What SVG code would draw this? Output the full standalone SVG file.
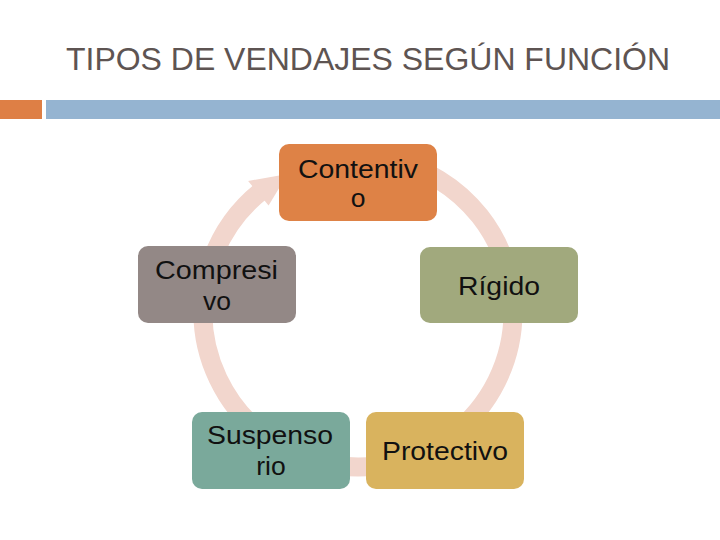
<svg xmlns="http://www.w3.org/2000/svg" width="720" height="540" viewBox="0 0 720 540">
<style>
.title{font-family:"Liberation Sans",Arial,sans-serif;font-size:32px;fill:#5e5452}
.lbl{font-family:"Liberation Sans",Arial,sans-serif;font-size:26.5px;fill:#111;text-anchor:middle}
.ring{fill:none;stroke:#f2d6cd;stroke-width:19}
.head{fill:#f2d6cd}
.box{stroke:none}
</style>
<rect width="720" height="540" fill="#ffffff"/>
<g id="title">
<text class="title" x="66" y="70" textLength="604" lengthAdjust="spacingAndGlyphs">TIPOS DE VENDAJES SEGÚN FUNCIÓN</text>
</g>
<g id="bars">
<rect x="0" y="100" width="42" height="19" fill="#de7f45"/>
<rect x="46" y="100" width="674" height="19" fill="#95b4d1"/>
</g>
<g id="connectors">
<path class="ring" d="M 336.4 158.5 A 155 155 0 0 1 504.6 261.5"/>
<polygon class="head" points="518.7,253.5 511.8,293.1 488.6,264.5"/>
<path class="ring" d="M 513 312 A 155 155 0 0 1 451.3 435.8"/>
<polygon class="head" points="463.3,446.7 423.5,452.5 443.6,421.5"/>
<path class="ring" d="M 398.1 461.7 A 155 155 0 0 1 336.4 465.5"/>
<polygon class="head" points="337.2,481.7 305,457.7 341.1,450"/>
<path class="ring" d="M 280.5 446.2 A 155 155 0 0 1 204.9 287.8"/>
<polygon class="head" points="188.7,288.2 213.3,256.4 220.4,292.7"/>
<path class="ring" d="M 212.3 259 A 155 155 0 0 1 260.5 191.6"/>
<polygon class="head" points="248.1,181 287.6,173.9 268.6,205.5"/>
</g>
<g id="contentivo">
<rect class="box" x="279" y="144" width="158" height="77" rx="10" fill="#de8246"/>
<text class="lbl" x="358" y="178" textLength="120" lengthAdjust="spacingAndGlyphs">Contentiv</text>
<text class="lbl" x="358" y="207">o</text>
</g>
<g id="rigido">
<rect class="box" x="420" y="247" width="158" height="76" rx="10" fill="#a1a97d"/>
<text class="lbl" x="499" y="295" textLength="82" lengthAdjust="spacingAndGlyphs">Rígido</text>
</g>
<g id="protectivo">
<rect class="box" x="366" y="412" width="158" height="77" rx="10" fill="#d9b35e"/>
<text class="lbl" x="445" y="460" textLength="126" lengthAdjust="spacingAndGlyphs">Protectivo</text>
</g>
<g id="suspensorio">
<rect class="box" x="192" y="412" width="158" height="77" rx="10" fill="#7aa99b"/>
<text class="lbl" x="270" y="444" textLength="126" lengthAdjust="spacingAndGlyphs">Suspenso</text>
<text class="lbl" x="271" y="475">rio</text>
</g>
<g id="compresivo">
<rect class="box" x="138" y="246" width="158" height="77" rx="10" fill="#938886"/>
<text class="lbl" x="216.5" y="279" textLength="123" lengthAdjust="spacingAndGlyphs">Compresi</text>
<text class="lbl" x="217" y="310">vo</text>
</g>
</svg>
